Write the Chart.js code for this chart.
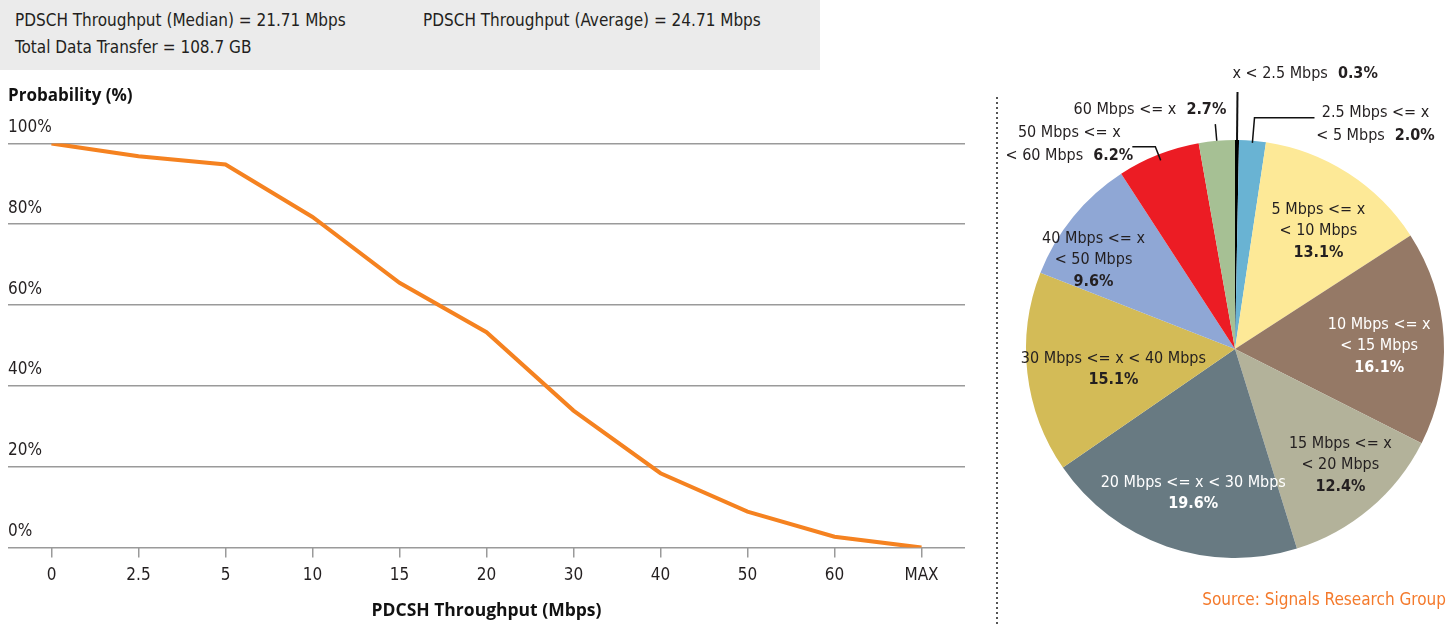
<!DOCTYPE html>
<html>
<head>
<meta charset="utf-8">
<script src="https://cdn.jsdelivr.net/npm/chart.js@4.4.0/dist/chart.umd.min.js"></script>
<style>
body { margin: 0; width: 1450px; height: 624px; background: #fff; position: relative; overflow: hidden;
       font-family: 'Liberation Sans Narrow', 'DejaVu Sans Condensed', sans-serif; color: #231f20; }
#stats { position: absolute; left: 0; top: 0; width: 820px; height: 70px; background: #ebebeb; font-size: 17px; line-height: 20px; }
#stats span { position: absolute; white-space: nowrap; }
#lineWrap { position: absolute; left: 0; top: 80px; width: 980px; height: 544px; }
#pieWrap { position: absolute; left: 1000px; top: 0; width: 450px; height: 624px; }
#divider { position: absolute; left: 996px; top: 97px; width: 2px; height: 527px;
           background: repeating-linear-gradient(to bottom, #555 0 2px, transparent 2px 5px); }
#source { position: absolute; right: 4px; top: 589px; color: #f47a2c; font-size: 17px; line-height: 20px; }
</style>
</head>
<body>
<div id="stats">
  <span style="left:15px; top:10px">PDSCH Throughput (Median) = 21.71 Mbps</span>
  <span style="left:423px; top:10px">PDSCH Throughput (Average) = 24.71 Mbps</span>
  <span style="left:15px; top:37px">Total Data Transfer = 108.7 GB</span>
</div>
<div id="lineWrap"><canvas id="cdfChart"></canvas></div>
<div id="divider"></div>
<div id="pieWrap"><canvas id="pieChart"></canvas></div>
<div id="source">Source: Signals Research Group</div>
<script>
const NARROW = "'Liberation Sans Narrow', 'DejaVu Sans Condensed', sans-serif";
const TEXT = '#231f20';

// throughput CDF
const throughputBins = ['0', '2.5', '5', '10', '15', '20', '30', '40', '50', '60', 'MAX'];
const probability = [100, 96.8, 94.8, 81.8, 65.5, 53.3, 33.9, 18.4, 8.9, 2.7, 0];
const yTicks = [0, 20, 40, 60, 80, 100];

// throughput distribution
const pieRanges = [
    ['x < 2.5 Mbps'],
    ['2.5 Mbps <= x', '< 5 Mbps'],
    ['5 Mbps <= x', '< 10 Mbps'],
    ['10 Mbps <= x', '< 15 Mbps'],
    ['15 Mbps <= x', '< 20 Mbps'],
    ['20 Mbps <= x < 30 Mbps'],
    ['30 Mbps <= x < 40 Mbps'],
    ['40 Mbps <= x', '< 50 Mbps'],
    ['50 Mbps <= x', '< 60 Mbps'],
    ['60 Mbps <= x']
];
const pieShares = [0.3, 2.0, 13.1, 16.1, 12.4, 19.6, 15.1, 9.6, 6.2, 2.7];
const pieColors = ['#000000', '#69b3d3', '#fde997', '#957966', '#b3b29a', '#687a82', '#d3bb57', '#8fa7d5', '#ec1c24', '#a6c094'];
const pieTextColors = [TEXT, TEXT, TEXT, '#ffffff', TEXT, '#ffffff', TEXT, TEXT, TEXT, TEXT];

// label placement: inside labels (radius factor, angle nudge in degrees)
const insideLabels = {
    2: { r: 0.69, nudge: 2.5 },
    3: { r: 0.69, nudge: 2 },
    4: { r: 0.75, nudge: -2 },
    5: { r: 0.72, nudge: -3 },
    6: { r: 0.59, nudge: -3 },
    7: { r: 0.80, nudge: -7 }
};
// outside labels with leader lines
const callouts = {
    0: { r0: 1.0, r1: 1.23, dx: 0, tx: -5, ty: -18, align: 'left', width: 2 },
    1: { r0: 0.99, r1: 1.11, dx: 60, tx: 61, ty: -5, align: 'center', width: 1.5 },
    8: { r0: 0.97, r1: 1.04, dx: -23, tx: -63, ty: -14, align: 'center', width: 1.5 },
    9: { r0: 1.0, r1: 1.08, dx: 0, tx: 11, ty: -14, align: 'right', width: 1.5 }
};

Chart.defaults.animation = false;
Chart.defaults.color = TEXT;

new Chart(document.getElementById('cdfChart'), {
    type: 'line',
    data: {
        labels: throughputBins,
        datasets: [{
            data: probability,
            borderColor: '#f58220',
            borderWidth: 4,
            pointRadius: 0,
            tension: 0,
            fill: false
        }]
    },
    options: {
        responsive: true,
        maintainAspectRatio: false,
        layout: { padding: { left: 8, right: 15, top: 0, bottom: 0 } },
        plugins: {
            legend: { display: false },
            tooltip: { enabled: false },
            title: {
                display: true,
                text: 'Probability (%)',
                align: 'start',
                color: '#111',
                font: { family: "'Open Sans', sans-serif", size: 17, weight: 'bold' },
                padding: { top: 6, bottom: 37 }
            }
        },
        scales: {
            x: {
                offset: true,
                border: { display: false },
                grid: { drawOnChartArea: false, drawTicks: true, tickLength: 10, color: '#9a9a9a', lineWidth: 1.5 },
                ticks: { font: { family: NARROW, size: 17 }, color: TEXT, padding: 8, maxRotation: 0 },
                title: {
                    display: true,
                    text: 'PDCSH Throughput (Mbps)',
                    color: '#111',
                    font: { family: "'Open Sans', sans-serif", size: 17.5, weight: 'bold' },
                    padding: { top: 7, bottom: 2 }
                }
            },
            y: {
                min: 0,
                max: 100,
                border: { display: false },
                grid: { drawTicks: false, color: '#9a9a9a', lineWidth: 1.5 },
                afterBuildTicks: s => { s.ticks = yTicks.map(v => ({ value: v })); },
                ticks: {
                    mirror: true,
                    padding: 0,
                    labelOffset: -16,
                    font: { family: NARROW, size: 17 },
                    color: TEXT,
                    callback: v => v + '%'
                }
            }
        }
    }
});

function drawRuns(ctx, runs, x, y, align, size) {
    const fonts = runs.map(r => (r.bold ? 'bold ' : '') + size + 'px ' + NARROW);
    const widths = runs.map((r, k) => { ctx.font = fonts[k]; return ctx.measureText(r.text).width; });
    const total = widths.reduce((a, b) => a + b, 0);
    let sx = align === 'left' ? x : align === 'right' ? x - total : x - total / 2;
    runs.forEach((r, k) => {
        ctx.font = fonts[k];
        ctx.textAlign = 'left';
        ctx.fillText(r.text, sx, y);
        sx += widths[k];
    });
}

const pieLabelPlugin = {
    id: 'pieLabels',
    afterDatasetsDraw(chart) {
        const ctx = chart.ctx;
        const meta = chart.getDatasetMeta(0);
        ctx.save();
        ctx.textBaseline = 'middle';
        meta.data.forEach((arc, i) => {
            const pct = pieShares[i].toFixed(1) + '%';
            const lines = pieRanges[i];
            const mid = (arc.startAngle + arc.endAngle) / 2;
            const R = arc.outerRadius;
            ctx.fillStyle = pieTextColors[i];
            if (insideLabels[i]) {
                const cfg = insideLabels[i];
                const a = mid + cfg.nudge * Math.PI / 180;
                const cx = arc.x + Math.cos(a) * R * cfg.r;
                const cy = arc.y + Math.sin(a) * R * cfg.r;
                const rows = lines.map(t => [{ text: t }]).concat([[{ text: pct, bold: true }]]);
                const step = 21.5;
                const top = cy - (rows.length - 1) * step / 2;
                rows.forEach((row, k) => drawRuns(ctx, row, cx, top + k * step, 'center', 16));
            } else if (callouts[i]) {
                const c = callouts[i];
                const x0 = arc.x + Math.cos(mid) * R * c.r0, y0 = arc.y + Math.sin(mid) * R * c.r0;
                const x1 = arc.x + Math.cos(mid) * R * c.r1, y1 = arc.y + Math.sin(mid) * R * c.r1;
                const x2 = x1 + c.dx;
                ctx.strokeStyle = '#111';
                ctx.lineWidth = c.width;
                ctx.beginPath();
                ctx.moveTo(x0, y0);
                ctx.lineTo(x1, y1);
                ctx.lineTo(x2, y1);
                ctx.stroke();
                ctx.fillStyle = TEXT;
                const rows = lines.map(t => [{ text: t }]);
                rows[rows.length - 1].push({ text: '  ' + pct, bold: true });
                rows.forEach((row, k) => drawRuns(ctx, row, x2 + c.tx, y1 + c.ty + k * 23, c.align, 16));
            }
        });
        ctx.restore();
    }
};

new Chart(document.getElementById('pieChart'), {
    type: 'pie',
    data: {
        labels: pieRanges,
        datasets: [{
            data: pieShares,
            backgroundColor: pieColors,
            borderWidth: 0
        }]
    },
    options: {
        responsive: true,
        maintainAspectRatio: false,
        layout: { padding: { left: 26, right: 6, top: 140, bottom: 66 } },
        plugins: {
            legend: { display: false },
            tooltip: { enabled: false }
        }
    },
    plugins: [pieLabelPlugin]
});
</script>
</body>
</html>
